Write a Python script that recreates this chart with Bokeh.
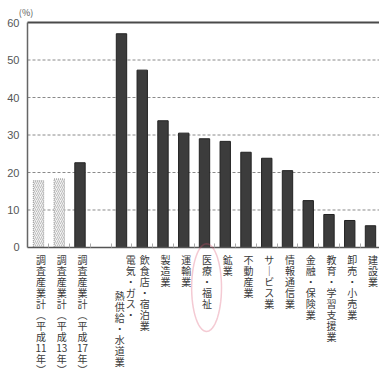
import numpy as np
from bokeh.plotting import figure
from bokeh.models import Range1d, FixedTicker, Label, PolyAnnotation
from bokeh.embed import file_html
from bokeh.resources import INLINE

# ---- data ----
categories = [
    "調査産業計(平成11年)", "調査産業計(平成13年)", "調査産業計(平成17年)",
    "電気・ガス・熱供給・水道業", "飲食店・宿泊業", "製造業", "運輸業", "医療・福祉",
    "鉱業", "不動産業", "サービス業", "情報通信業", "金融・保険業",
    "教育・学習支援業", "卸売・小売業", "建設業",
]
values = [17.8, 18.3, 22.6, 57.0, 47.3, 33.8, 30.5, 29.0, 28.3, 25.4, 23.8,
          20.5, 12.5, 8.8, 7.2, 5.8]
positions = [0, 1, 2, 4, 5, 6, 7, 8, 9, 10, 11, 12, 13, 14, 15, 16]
hatched = [True, True, False, False, False, False, False, False, False, False,
           False, False, False, False, False, False]
y_ticks = [0, 10, 20, 30, 40, 50, 60]
grid_ticks = [10, 20, 30, 40, 50]
highlight = "医療・福祉"
column_breaks = {"電気・ガス・熱供給・水道業": 6}

FONT = "Noto Sans CJK JP"

# plotting area of the chart in data units
X_LEFT, X_RIGHT = -0.53, 16.43
Y_MIN, Y_MAX = 0, 60

p = figure(width=379, height=380, output_backend="svg", toolbar_location=None,
           x_range=Range1d(-1.831, 16.434), y_range=Range1d(-35.47, 65.87),
           min_border=0, min_border_left=0, min_border_right=0,
           min_border_top=0, min_border_bottom=0)
p.outline_line_color = None
p.background_fill_color = "white"
p.border_fill_color = "white"
p.xgrid.visible = False
p.ygrid.visible = False

# grid lines (dashed) and the solid top line
p.segment(x0=[X_LEFT] * len(grid_ticks), x1=[X_RIGHT] * len(grid_ticks),
          y0=grid_ticks, y1=grid_ticks, line_color="#8a8a8a",
          line_dash="3 2", line_width=1)
p.segment(x0=[X_LEFT], x1=[X_RIGHT], y0=[Y_MAX], y1=[Y_MAX],
          line_color="#4a4a4a", line_width=2)

# bars
hx = [x for x, h in zip(positions, hatched) if h]
hv = [v for v, h in zip(values, hatched) if h]
dx = [x for x, h in zip(positions, hatched) if not h]
dv = [v for v, h in zip(values, hatched) if not h]
p.vbar(x=hx, top=hv, width=0.5, fill_color="#f2f2f2", line_color="#9a9a9a",
       line_dash="1 1", hatch_pattern="/", hatch_color="#b0b0b0",
       hatch_scale=4, hatch_weight=0.8)
p.vbar(x=dx, top=dv, width=0.5, fill_color="#3c3c3c", line_color="#222222")

# axes (fixed inside the frame)
p.yaxis.fixed_location = X_LEFT
p.yaxis.bounds = (Y_MIN, Y_MAX)
p.yaxis.ticker = FixedTicker(ticks=y_ticks)
p.yaxis.axis_line_color = "#666666"
p.yaxis.axis_line_width = 1.5
p.yaxis.major_tick_out = 0
p.yaxis.major_tick_in = 0
p.yaxis.minor_tick_line_color = None
p.yaxis.major_label_standoff = 8
p.yaxis.major_label_text_font = "Liberation Sans"
p.yaxis.major_label_text_font_size = "11px"
p.yaxis.major_label_text_color = "#555555"

xt = [i + 0.5 for i in range(16)]
p.xaxis.fixed_location = 0
p.xaxis.bounds = (X_LEFT, X_RIGHT)
p.xaxis.ticker = FixedTicker(ticks=xt)
p.xaxis.major_label_overrides = {t: "" for t in xt}
p.xaxis.axis_line_color = "#555555"
p.xaxis.axis_line_width = 1.5
p.xaxis.major_tick_in = 4
p.xaxis.major_tick_out = 0
p.xaxis.major_tick_line_color = "#aaaaaa"
p.xaxis.minor_tick_line_color = None

p.add_layout(Label(x=-0.6, y=62.8, text="(%)", text_align="center",
                   text_baseline="middle", text_font_size="9px",
                   text_color="#555555", text_font=FONT))


def vertical(s):
    out = []
    i = 0
    while i < len(s):
        c = s[i]
        if c.isdigit():
            j = i
            while j < len(s) and s[j].isdigit():
                j += 1
            out.append(s[i:j])
            i = j
            continue
        out.append({"(": "︵", ")": "︶", "ー": "｜"}.get(c, c))
        i += 1
    return "\n".join(out)


FS = 10
line_px = 10.4                    # wanted distance between stacked characters
LINE = 1.15 * line_px / 16.3      # CJK font line box is ~1.42 em
y_unit_px = 225 / 60.0
y_top = -1.2

for name, x in zip(categories, positions):
    if name in column_breaks:
        k = column_breaks[name]
        cols = [(name[:k], 0.45, 0), (name[k:], -0.08, 3.5)]
    else:
        cols = [(name, 0.12, 0)]
    for txt, off, drop in cols:
        p.add_layout(Label(x=x + off, y=y_top - drop * line_px / y_unit_px,
                           text=vertical(txt), text_align="center",
                           text_baseline="top", text_font=FONT,
                           text_font_size=f"{FS}px", text_line_height=LINE,
                           text_color="#3a3a3a"))

# hand-drawn highlight ellipse around the highlighted label
hi = positions[categories.index(highlight)]
t = np.linspace(0, 2 * np.pi, 60)
cx, cy = hi + 0.1, -10.7
p.add_layout(PolyAnnotation(xs=list(cx + 0.72 * np.cos(t)),
                            ys=list(cy + 11.7 * np.sin(t)),
                            line_color="#d9506e", line_width=1.5,
                            fill_alpha=0))

open("out.html", "w").write(file_html(p, INLINE))
